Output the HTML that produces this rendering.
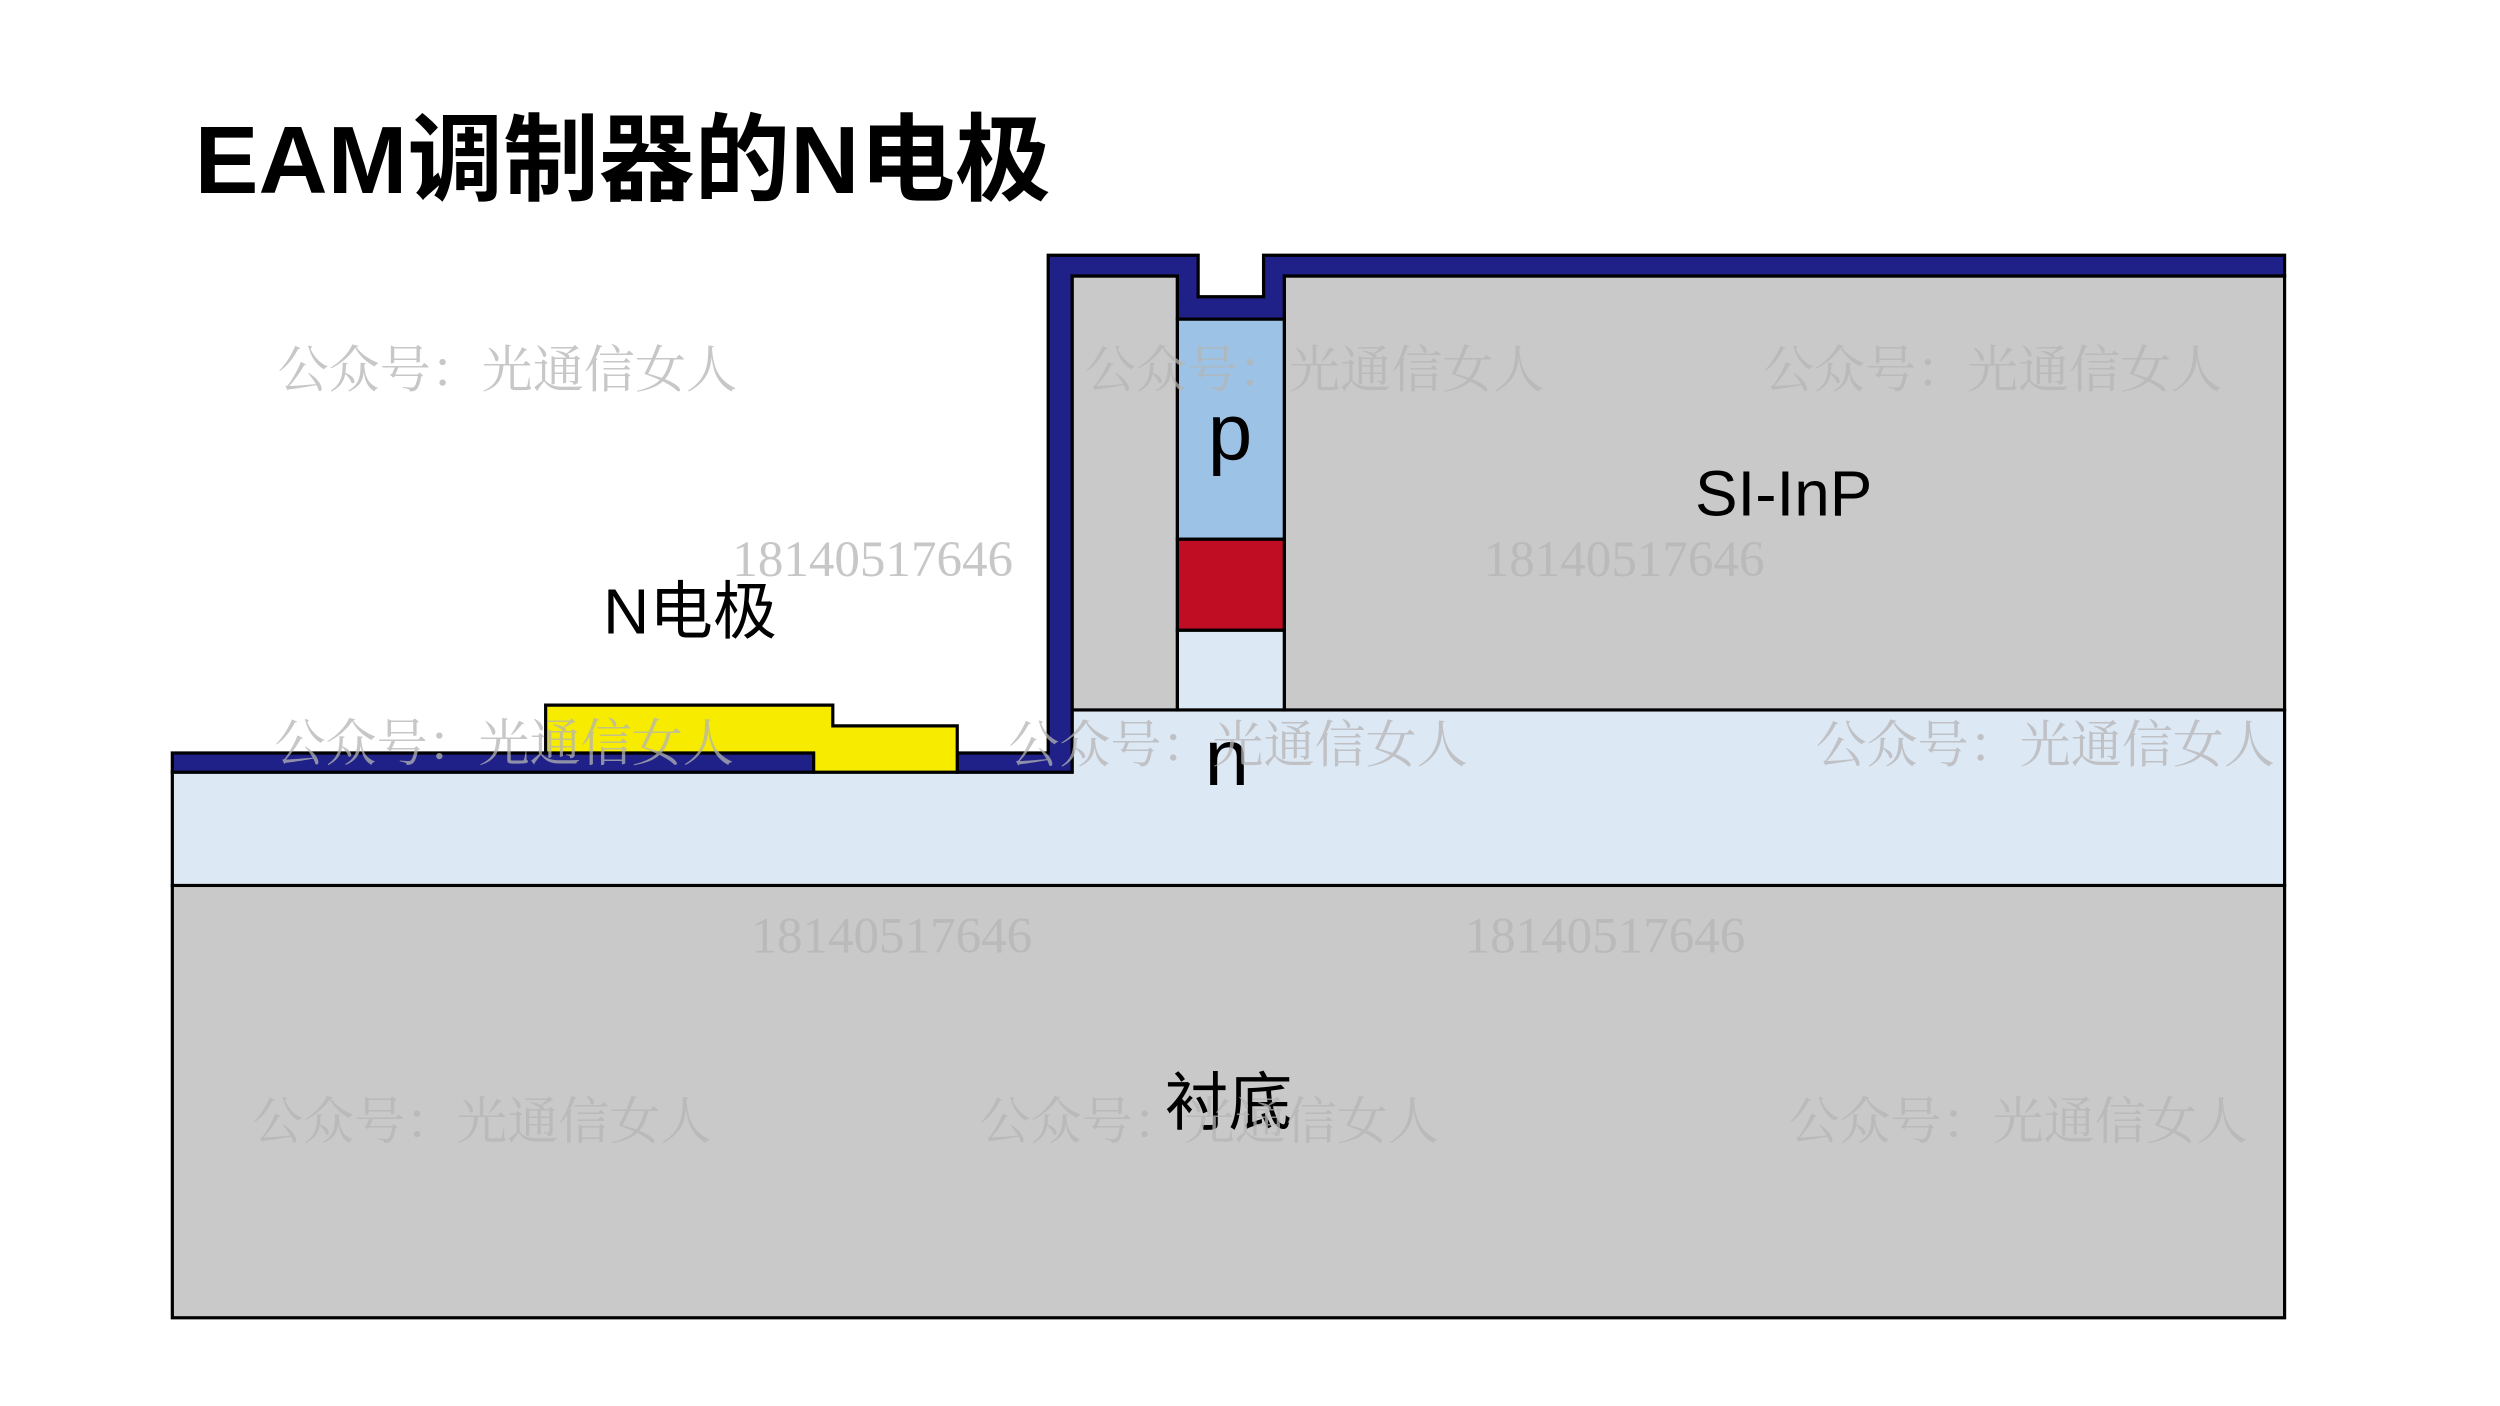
<!DOCTYPE html>
<html><head><meta charset="utf-8"><style>
html,body{margin:0;padding:0;background:#fff;}
svg{display:block;}
</style></head><body>
<svg width="2500" height="1406" viewBox="0 0 1567 881.3" xmlns="http://www.w3.org/2000/svg">
<rect width="1567" height="882" fill="#fff"/>
<text x="122" y="121" font-family="Liberation Sans, Noto Sans CJK SC, sans-serif" font-weight="bold" font-size="60" fill="#000">EAM调制器的N电极</text>
<g stroke="#000" stroke-width="2" stroke-linejoin="miter">
<rect x="108" y="555" width="1324" height="271" fill="#c8c9c8"/>
<polygon points="108,484 672,484 672,445 1432,445 1432,555 108,555" fill="#dde8f5"/>
<rect x="672" y="173" width="66" height="272" fill="#c8c9c8"/>
<rect x="805" y="173" width="627" height="272" fill="#c8c9c8"/>
<rect x="738" y="395" width="67" height="50" fill="#dde8f5"/>
<rect x="738" y="200" width="67" height="138" fill="#9cc3e6"/>
<rect x="738" y="338" width="67" height="57" fill="#c00d23"/>
<polygon points="108,472 510,472 510,484 108,484" fill="#1f2088"/>
<polygon points="600,472 657,472 657,160 751,160 751,186 792,186 792,160 1432,160 1432,173 805,173 805,200 738,200 738,173 672,173 672,484 600,484" fill="#1f2088"/>
<polygon points="342,442 522,442 522,455 600,455 600,484 510,484 510,472 342,472" fill="#f7ec00"/>
</g>
<g font-family="Liberation Sans, Noto Sans CJK SC, sans-serif" fill="#000">
<text x="378" y="397" font-size="40">N电极</text>
<text x="771" y="288" font-size="50" text-anchor="middle">p</text>
<text x="1118" y="323" font-size="40" text-anchor="middle">SI-InP</text>
<text x="769" y="492" font-size="50" text-anchor="middle">n</text>
<text x="770" y="705" font-size="40" text-anchor="middle">衬底</text>
</g>
<g font-family="Liberation Serif, Noto Serif CJK SC, serif" fill="#b4b4b4" fill-opacity="0.75" font-size="32">
<text x="174" y="243">公众号：光通信女人</text>
<text x="680" y="243">公众号：光通信女人</text>
<text x="1105" y="243">公众号：光通信女人</text>
<text x="172" y="477">公众号：光通信女人</text>
<text x="632" y="478">公众号：光通信女人</text>
<text x="1138" y="478">公众号：光通信女人</text>
<text x="158" y="714">公众号：光通信女人</text>
<text x="614" y="714">公众号：光通信女人</text>
<text x="1121" y="714">公众号：光通信女人</text>
<text x="459" y="361">18140517646</text>
<text x="930" y="361">18140517646</text>
<text x="471" y="597">18140517646</text>
<text x="918" y="597">18140517646</text>
</g>
</svg>
</body></html>
